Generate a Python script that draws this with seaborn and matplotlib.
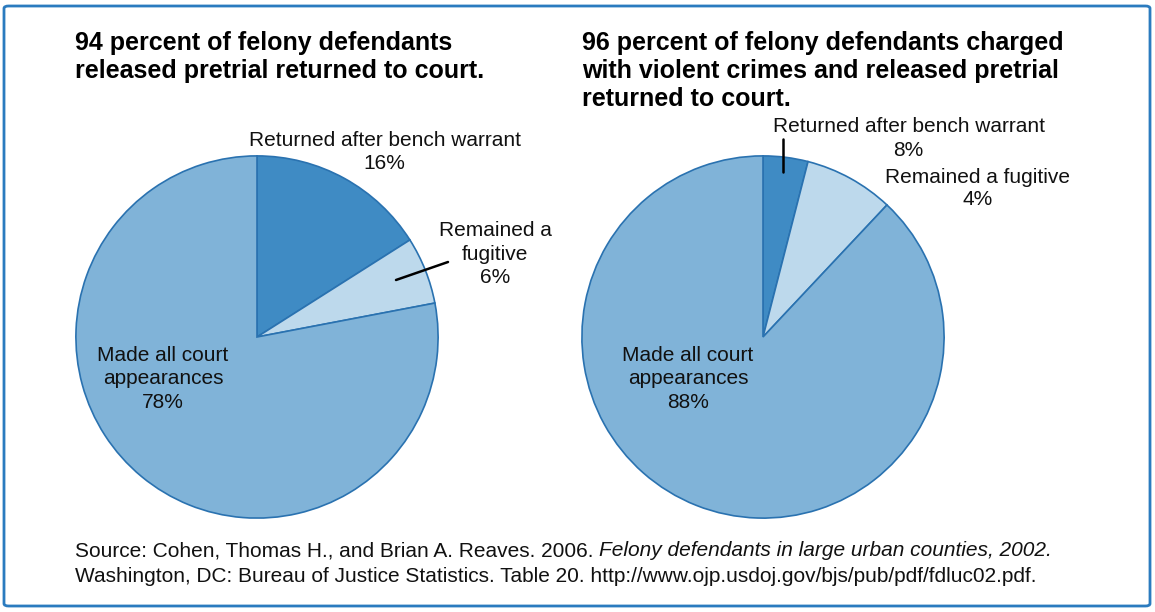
import matplotlib
matplotlib.use("Agg")
import matplotlib.pyplot as plt
import seaborn as sns
from matplotlib.patches import FancyBboxPatch

# data
categories = ["Returned after bench warrant", "Remained a fugitive", "Made all court appearances"]
all_values = [16, 6, 78]
violent_values = [4, 8, 88]          # wedge sizes as drawn
violent_printed = ["8%", "4%", "88%"]  # percentages as printed on the chart

titles = ["94 percent of felony defendants\nreleased pretrial returned to court.",
          "96 percent of felony defendants charged\nwith violent crimes and released pretrial\nreturned to court."]

colors = ["#3f8bc4", "#bdd9ec", "#80b3d8"]
edge = "#2a72b0"

sns.set_theme(style="white")
plt.rcParams["font.family"] = ["Liberation Sans", "DejaVu Sans"]
plt.rcParams["text.color"] = "black"

W, H = 1155, 612
fig = plt.figure(figsize=(W / 100, H / 100), dpi=100)


def px(x, y):
    return x / W, 1 - y / H


def pie_axes(cx, cy, r):
    ax = fig.add_axes([(cx - r) / W, (H - cy - r) / H, 2 * r / W, 2 * r / H])
    return ax


def draw_pie(ax, values):
    ax.pie(values, colors=colors, startangle=90, counterclock=False, radius=1,
           wedgeprops=dict(edgecolor=edge, linewidth=1.2))
    ax.set_xlim(-1.005, 1.005)
    ax.set_ylim(-1.005, 1.005)
    ax.axis("off")


ax1 = pie_axes(257, 337, 182)
draw_pie(ax1, all_values)
ax2 = pie_axes(763, 337, 182)
draw_pie(ax2, violent_values)

# titles
fig.text(*px(75, 31), titles[0], fontsize=18, fontweight="bold", va="top", ha="left",
         linespacing=1.22)
fig.text(*px(582, 31), titles[1], fontsize=18, fontweight="bold", va="top", ha="left",
         linespacing=1.22)

lab = dict(fontsize=15, ha="center", va="center", color="#111111")

# left pie labels
fig.text(*px(385, 140), categories[0], **lab)
fig.text(*px(384, 164), f"{all_values[0]}%", **lab)
fig.text(*px(495, 254), "Remained a\nfugitive\n" + f"{all_values[1]}%", linespacing=1.3, **lab)
fig.text(*px(163, 379), "Made all court\nappearances\n" + f"{all_values[2]}%", linespacing=1.3, **lab)

# right pie labels
fig.text(*px(909, 127), categories[0], **lab)
fig.text(*px(908, 151), violent_printed[0], **lab)
fig.text(*px(978, 177), categories[1], **lab)
fig.text(*px(978, 200), violent_printed[1], **lab)
fig.text(*px(688, 379), "Made all court\nappearances\n" + violent_printed[2], linespacing=1.3, **lab)

# leader lines
fig.add_artist(plt.Line2D([396 / W, 448 / W], [1 - 280 / H, 1 - 262 / H], color="black", lw=1.8))
fig.add_artist(plt.Line2D([783 / W, 783 / W], [1 - 139 / H, 1 - 172 / H], color="black", lw=1.8))

# source
fs = 15
first = fig.text(*px(75, 551), "Source: Cohen, Thomas H., and Brian A. Reaves. 2006. ", fontsize=fs,
                 ha="left", va="center", color="#111111")
fig.text(*px(75, 576), "Washington, DC: Bureau of Justice Statistics. Table 20. "
         "http://www.ojp.usdoj.gov/bjs/pub/pdf/fdluc02.pdf.", fontsize=fs,
         ha="left", va="center", color="#111111")
fig.canvas.draw()
bb = first.get_window_extent()
fig.text(bb.x1 / W, 1 - 551 / H, "Felony defendants in large urban counties, 2002.",
         fontsize=fs, style="italic", ha="left", va="center", color="#111111")

# border
fig.add_artist(FancyBboxPatch((4 / W, 6 / H), 1146 / W, 600 / H,
                              boxstyle="round,pad=0,rounding_size=0.004",
                              transform=fig.transFigure, fill=False,
                              edgecolor="#2b7bbf", linewidth=2))

fig.savefig("out.png", dpi=100)
